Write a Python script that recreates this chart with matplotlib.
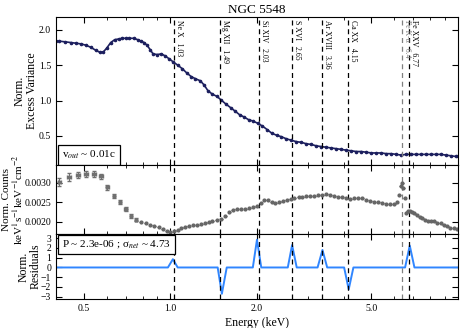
import matplotlib
matplotlib.use("Agg")
import matplotlib.pyplot as plt
import matplotlib.ticker as mticker
from matplotlib.transforms import blended_transform_factory

plt.rcParams['font.family'] = ['Liberation Serif', 'DejaVu Serif']
plt.rcParams['mathtext.fontset'] = 'stix'
plt.rcParams['font.size'] = 7

# emission lines (keV)
line_names = ["Ne X", "Mg XII", "Si XIV", "S XVI", "Ar XVIII", "Ca XX", "Fe K-α", "Fe XXV"]
line_energies = [1.03, 1.49, 2.03, 2.65, 3.36, 4.15, 6.4, 6.77]
line_colors = ["k", "k", "k", "k", "k", "k", "grey", "k"]

# normalised excess variance spectrum
var_E = [0.40, 0.41, 0.43, 0.45, 0.47, 0.49, 0.51, 0.53, 0.55, 0.57, 0.585, 0.60, 0.62,
         0.64, 0.66, 0.68, 0.70, 0.72, 0.745, 0.77, 0.79, 0.81, 0.83, 0.85, 0.87, 0.90,
         0.93, 0.96, 0.99, 1.02, 1.06, 1.10, 1.14, 1.18, 1.22, 1.27, 1.31, 1.35, 1.40,
         1.45, 1.50, 1.56, 1.62, 1.68, 1.74, 1.80, 1.87, 1.94, 2.01, 2.09, 2.17, 2.25,
         2.34, 2.43, 2.53, 2.63, 2.74, 2.85, 2.97, 3.09, 3.22, 3.35, 3.49, 3.63, 3.78,
         3.93, 4.09, 4.26, 4.43, 4.61, 4.80, 5.00, 5.20, 5.41, 5.63, 5.86, 6.10, 6.35,
         6.60, 6.87, 7.15, 7.44, 7.74, 8.06, 8.39, 8.73, 9.08, 9.45, 9.83, 10.0]
var_V = [1.84, 1.84, 1.83, 1.82, 1.81, 1.80, 1.78, 1.75, 1.71, 1.68, 1.69, 1.74, 1.82,
         1.86, 1.87, 1.88, 1.88, 1.88, 1.88, 1.86, 1.84, 1.82, 1.78, 1.72, 1.66, 1.65,
         1.66, 1.63, 1.59, 1.55, 1.50, 1.45, 1.39, 1.34, 1.31, 1.28, 1.22, 1.14, 1.09,
         1.06, 1.01, 0.95, 0.90, 0.85, 0.80, 0.77, 0.73, 0.71, 0.68, 0.64, 0.59, 0.54,
         0.51, 0.49, 0.46, 0.44, 0.42, 0.41, 0.39, 0.38, 0.36, 0.35, 0.34, 0.33, 0.32,
         0.31, 0.30, 0.29, 0.28, 0.28, 0.27, 0.26, 0.26, 0.26, 0.25, 0.25, 0.24, 0.23,
         0.24, 0.24, 0.24, 0.24, 0.24, 0.24, 0.24, 0.24, 0.23, 0.22, 0.21, 0.21]

# normalised counts: soft band (large errors)
soft_E = [0.41, 0.443, 0.478, 0.51, 0.544, 0.574, 0.604, 0.636, 0.668, 0.698, 0.728, 0.76]
soft_C = [0.00302, 0.00315, 0.00321, 0.00323, 0.00323, 0.00317, 0.00289, 0.00266,
          0.00250, 0.00234, 0.00216, 0.00205]
soft_xerr = [0.012, 0.015, 0.015, 0.015, 0.016, 0.013, 0.01, 0.01, 0.01, 0.009, 0.008, 0.008]
soft_yerr = [0.0001, 0.0001, 0.00008, 0.00008, 0.00008, 0.00007, 0.00006, 0.00006,
             0.00005, 0.00005, 0.00005, 0.00004]

# normalised counts: rest of the band
cnt_E = [0.79, 0.82, 0.85, 0.88, 0.91, 0.94, 0.97, 1.00, 1.03, 1.06, 1.09, 1.12, 1.16,
         1.20, 1.24, 1.28, 1.32, 1.36, 1.40, 1.45, 1.50, 1.55, 1.60, 1.65, 1.70, 1.76,
         1.82, 1.88, 1.94, 2.00, 2.06, 2.12, 2.18, 2.25, 2.32, 2.39, 2.46, 2.54, 2.62,
         2.70, 2.79, 2.88, 2.97, 3.07, 3.17, 3.27, 3.38, 3.49, 3.60, 3.72, 3.84, 3.96,
         4.09, 4.22, 4.36, 4.50, 4.65, 4.80, 4.96, 5.12, 5.29, 5.46, 5.64, 5.82, 6.01,
         6.14, 6.25, 6.33, 6.40, 6.46, 6.52, 6.60, 6.70, 6.80, 6.92, 7.05, 7.20, 7.36,
         7.52, 7.70, 7.88, 8.07, 8.27, 8.48, 8.70, 8.93, 9.17, 9.42, 9.70, 9.95]
cnt_C = [0.00199, 0.00196, 0.00192, 0.00190, 0.00186, 0.00181, 0.00177, 0.00175, 0.00177,
         0.00180, 0.00183, 0.00186, 0.00189, 0.00192, 0.00192, 0.00195, 0.00198, 0.00200,
         0.00202, 0.00205, 0.00208, 0.00215, 0.00226, 0.00231, 0.00232, 0.00233, 0.00232,
         0.00235, 0.00237, 0.00240, 0.00248, 0.00256, 0.00256, 0.00252, 0.00249, 0.00252,
         0.00254, 0.00256, 0.00258, 0.00260, 0.00263, 0.00264, 0.00266, 0.00266, 0.00267,
         0.00268, 0.00269, 0.00271, 0.00269, 0.00266, 0.00263, 0.00263, 0.00261, 0.00259,
         0.00262, 0.00262, 0.00260, 0.00256, 0.00253, 0.00252, 0.00250, 0.00248, 0.00247,
         0.00246, 0.00246, 0.00250, 0.00270, 0.00292, 0.00300, 0.00288, 0.00262, 0.00222,
         0.00228, 0.00227, 0.00226, 0.00222, 0.00217, 0.00213, 0.00210, 0.00205, 0.00202,
         0.00202, 0.00201, 0.00198, 0.00196, 0.00191, 0.00188, 0.00185, 0.00183, 0.00181]

# residuals
res_E = [0.40, 0.98, 1.02, 1.06, 1.46, 1.51, 1.57, 1.935, 2.00, 2.07, 2.56, 2.65, 2.75,
         3.25, 3.38, 3.51, 4.02, 4.17, 4.33, 6.55, 6.80, 7.06, 10.0]
res_V = [0, 0, 0.85, 0, 0, -2.7, 0, 0, 2.85, 0, 0, 2.3, 0, 0, 1.8, 0, 0, -2.25, 0, 0, 2.25, 0, 0]

fig = plt.figure(figsize=(4.63, 3.28), dpi=100)
ax1 = fig.add_axes([0.121, 0.497, 0.868, 0.451])
ax2 = fig.add_axes([0.121, 0.287, 0.868, 0.210], sharex=ax1)
ax3 = fig.add_axes([0.121, 0.088, 0.868, 0.199], sharex=ax1)

ax1.plot(var_E, var_V, '-', color='#1c1f5e', lw=1.2, marker='o', ms=1.6)

ax2.errorbar(soft_E, soft_C, xerr=[[e * s for e, s in zip(soft_E, soft_xerr)],
                                   [e * s for e, s in zip(soft_E, soft_xerr)]],
             yerr=soft_yerr, fmt='o', ms=2, color='#707070', elinewidth=0.8, capsize=1.5)
ax2.errorbar(cnt_E, cnt_C, xerr=[e * 0.012 for e in cnt_E], yerr=0.00002,
             fmt='o', ms=2, color='#666666', elinewidth=0.7)

ax3.plot(res_E, res_V, '-', color='#3086ff', lw=1.4)

for ax in (ax1, ax2, ax3):
    for e, c in zip(line_energies, line_colors):
        ax.axvline(e, color=c, ls=(0, (4, 3)), lw=0.9)
    ax.set_xscale('log')
    ax.tick_params(which='both', direction='in', top=True, right=True, labelsize=7)
    ax.tick_params(which='major', length=4)
    ax.tick_params(which='minor', length=2)

tr = blended_transform_factory(ax1.transData, ax1.transAxes)
for name, e, c in zip(line_names, line_energies, line_colors):
    ax1.annotate(f"{name}   {e:g}", xy=(e, 1.0), xycoords=tr, xytext=(0.6, -2),
                 textcoords='offset points', rotation=270, ha='left', va='top',
                 fontsize=5.6, color=c)

ax1.set_xlim(0.4, 10)
ax1.set_ylim(0.09, 2.18)
ax1.set_yticks([0.5, 1.0, 1.5, 2.0])
ax1.yaxis.set_major_formatter(mticker.FormatStrFormatter('%.1f'))
ax2.set_ylim(0.00169, 0.00346)
ax2.set_yticks([0.0020, 0.0025, 0.0030])
ax2.yaxis.set_major_formatter(mticker.FormatStrFormatter('%.4f'))
ax3.set_ylim(-3.25, 3.45)
ax3.set_yticks([-3, -2, -1, 0, 1, 2, 3])
ax3.yaxis.set_major_formatter(mticker.FuncFormatter(lambda v, p: f"{v:.0f}".replace('-', '−')))

ax3.set_xticks([0.5, 1.0, 2.0, 5.0])
ax3.xaxis.set_major_formatter(mticker.FormatStrFormatter('%.1f'))
ax3.xaxis.set_minor_formatter(mticker.NullFormatter())
plt.setp(ax1.get_xticklabels(which='both'), visible=False)
plt.setp(ax2.get_xticklabels(which='both'), visible=False)

ax1.set_title("NGC 5548", fontsize=9.5, pad=3)
ax1.set_ylabel("Norm.\nExcess Variance", fontsize=8.5, linespacing=1.0)
ax2.set_ylabel("Norm. Counts\nkeV$^{1}$s$^{-1}$keV$^{-1}$cm$^{-2}$", fontsize=8, linespacing=0.95)
ax3.set_ylabel("Norm.\nResiduals", fontsize=8.5, linespacing=1.0)
ax1.yaxis.set_label_coords(-0.045, 0.5)
ax2.yaxis.set_label_coords(-0.078, 0.5)
ax3.yaxis.set_label_coords(-0.035, 0.5)
ax3.set_xlabel("Energy (keV)", fontsize=8.5, labelpad=3)

ax1.text(0.015, 0.025, r"v$_{out}$ ~ 0.01c", transform=ax1.transAxes, fontsize=8,
         ha='left', va='bottom',
         bbox=dict(boxstyle='square,pad=0.35', fc='white', ec='black', lw=0.9))
ax3.text(0.015, 0.93, r"P ~ 2.3e-06 ; σ$_{net}$ ~ 4.73", transform=ax3.transAxes, fontsize=8,
         ha='left', va='top',
         bbox=dict(boxstyle='square,pad=0.35', fc='white', ec='black', lw=0.9))

fig.savefig("out.png", dpi=100)
